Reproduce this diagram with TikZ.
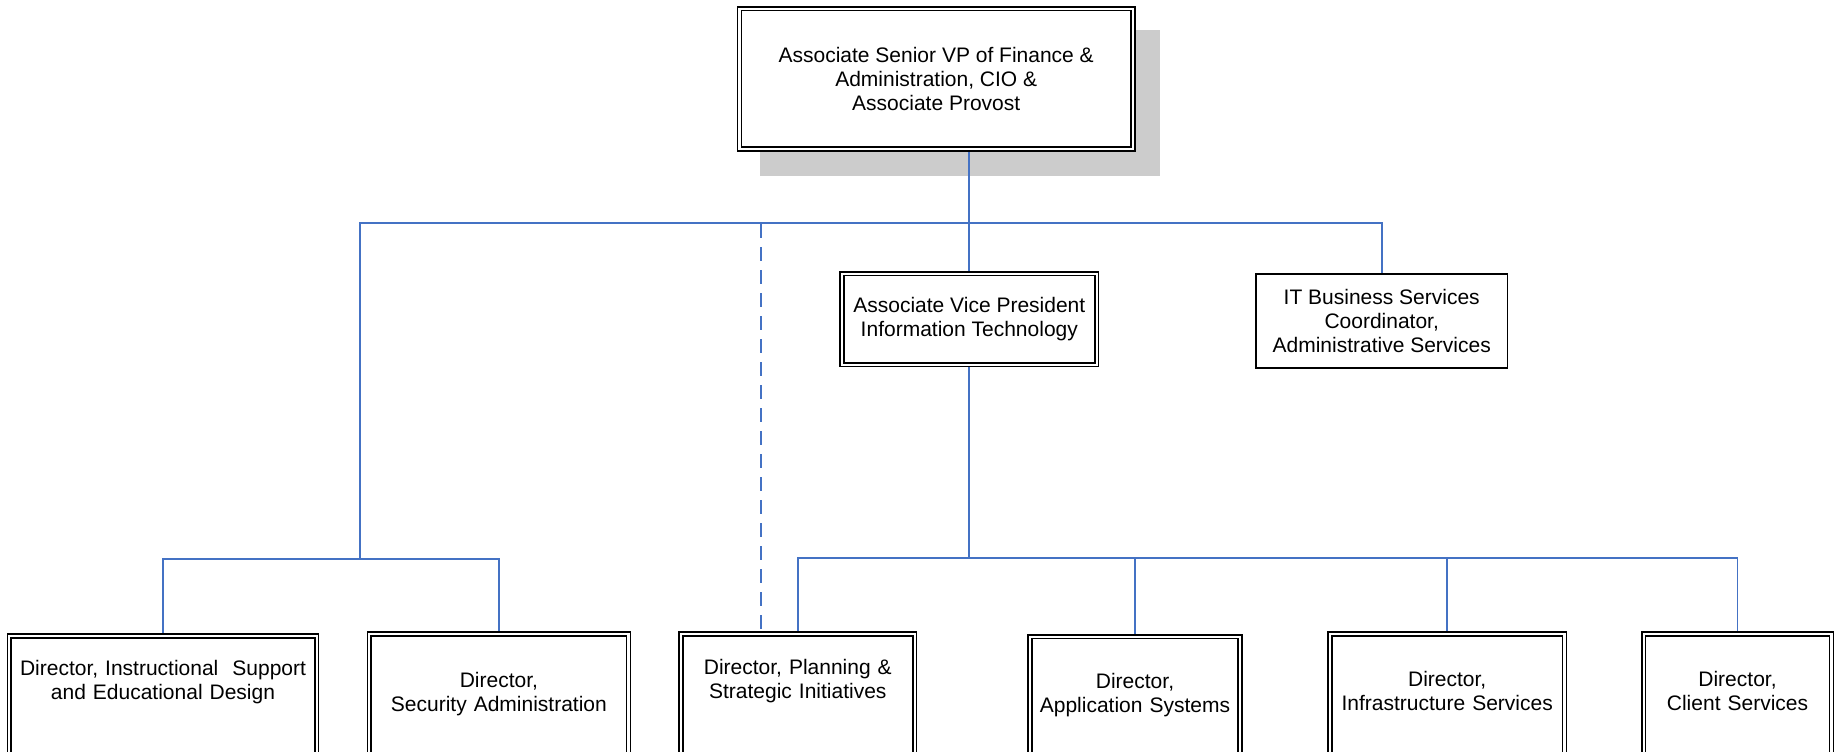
\documentclass[tikz,border=0pt]{standalone}
\usepackage{fontspec}
\setmainfont{Liberation Sans}
\usetikzlibrary{backgrounds}
\definecolor{orgblue}{RGB}{68,114,196}
\begin{document}
\begin{tikzpicture}[x=1pt,y=1pt,
	every node/.style={font=\fontsize{21}{24}\selectfont, align=center, inner sep=2pt},
	dblbox/.style={draw, fill=white, double, line width=1.6pt, double distance=2.2pt},
	sglbox/.style={draw, fill=white, line width=1.6pt},
	dirbox/.style 2 args={dblbox, anchor=north, inner sep=0pt, text width=#1, text height=#2, text depth=160pt},
	conn/.style={draw=orgblue, line width=1.8pt},
	dashlink/.style={conn, dash pattern=on 14pt off 9pt}]
	\useasboundingbox (0,0) rectangle (1837,-752);
	\clip (0,0) rectangle (1837,-752);
	\node[dblbox, minimum width=393.6pt, minimum height=140.3pt] (asvp) at (936.2,-78.8) {Associate Senior VP of Finance \&\\Administration, CIO \&\\Associate Provost};
	\node[dblbox, minimum width=254.6pt, minimum height=90.9pt] (avpit) at (969.3,-319.2) {Associate Vice President\\Information Technology};
	\node[sglbox, minimum width=251.7pt, minimum height=94.1pt] (itbs) at (1381.7,-321.2) {IT Business Services\\Coordinator,\\Administrative Services};
	\node[dirbox={307.4pt}{39.5pt}] (instr) at (163,-635.3) {Director, Instructional~ Support\\and Educational Design};
	\node[dirbox={259.1pt}{53.5pt}] (secadm) at (498.9,-633.3) {Director,\\Security Administration};
	\node[dirbox={233.8pt}{40pt}] (planning) at (797.8,-633.3) {Director, Planning \&\\Strategic Initiatives};
	\node[dirbox={210.2pt}{51.5pt}] (appsys) at (1135,-635.9) {Director,\\Application Systems};
	\node[dirbox={234.5pt}{52.5pt}] (infra) at (1447.2,-633.3) {Director,\\Infrastructure Services};
	\node[dirbox={187.8pt}{52pt}] (client) at (1737.5,-633.3) {Director,\\Client Services};
	\coordinate (lhub) at (359.7,-222.7);
	\coordinate (lbus) at (359.7,-559);
	\coordinate (rbus) at (969.3,-558);
	\coordinate (dash) at (761,-224);
	\begin{scope}[on background layer]
		\fill[black!20] (760,-30) rectangle (1160,-176);
		\draw[conn] (asvp.south -| avpit.north) -- (avpit.north);
		\draw[conn] (itbs.north) |- (lhub) -- (lbus);
		\draw[conn] (instr.north) |- (lbus) -| (secadm.north);
		\draw[conn] (avpit.south) -- (rbus);
		\draw[conn] (planning.north) |- (rbus) -| (client.north);
		\draw[conn] (appsys.north) -- (appsys.north |- rbus);
		\draw[conn] (infra.north) -- (infra.north |- rbus);
		\draw[dashlink] (dash) -- (dash |- planning.north);
	\end{scope}
\end{tikzpicture}
\end{document}
